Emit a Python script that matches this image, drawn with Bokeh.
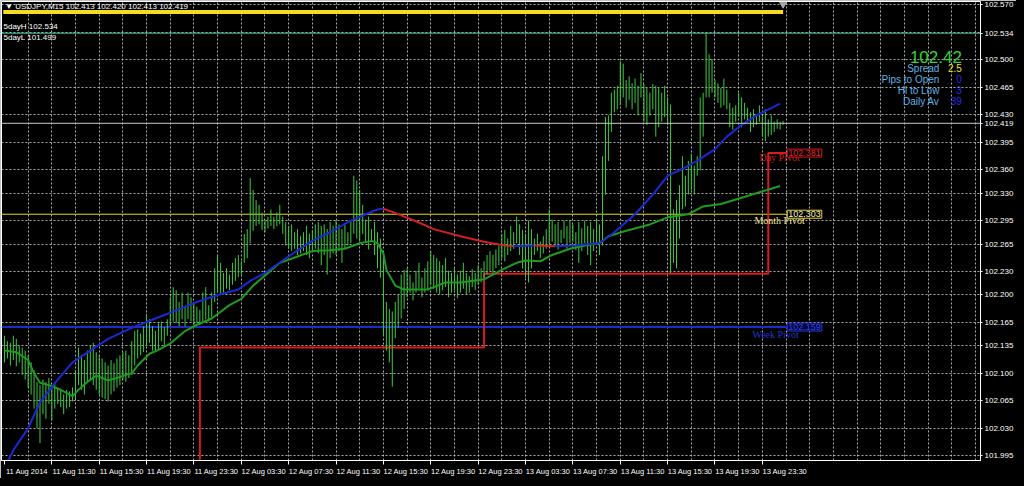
import numpy as np
from bokeh.plotting import figure
from bokeh.models import Range1d, FixedTicker, NumeralTickFormatter, Label, Span
from bokeh.embed import file_html
from bokeh.resources import INLINE
try:
    from bokeh.models import HTMLLabel
except ImportError:
    HTMLLabel = None

# ---------------- data ----------------
chart_title = "\u25bc USDJPY,M15  102.413 102.420 102.413 102.419"
bar_start_hour = 7.5      # first bar: 11 Aug 2014 07:30 (hours since 11 Aug 00:00)
bar_step_hour = 0.25      # M15 bars

highs = [
    102.148, 102.141, 102.139, 102.148, 102.144, 102.135, 102.133, 102.129, 102.123, 102.114, 102.104, 102.089, 102.085, 102.092, 102.089, 102.094,
    102.085, 102.088, 102.082, 102.079, 102.073, 102.079, 102.077, 102.082, 102.104, 102.133, 102.123, 102.117, 102.129, 102.135, 102.139, 102.127,
    102.123, 102.119, 102.114, 102.110, 102.117, 102.113, 102.119, 102.123, 102.127, 102.129, 102.123, 102.141, 102.154, 102.156, 102.151, 102.160,
    102.176, 102.169, 102.160, 102.154, 102.164, 102.166, 102.159, 102.169, 102.197, 102.210, 102.206, 102.191, 102.203, 102.185, 102.203, 102.197,
    102.191, 102.185, 102.181, 102.203, 102.210, 102.187, 102.203, 102.234, 102.251, 102.241, 102.228, 102.234, 102.226, 102.241, 102.247, 102.251,
    102.243, 102.278, 102.284, 102.349, 102.334, 102.321, 102.315, 102.305, 102.296, 102.300, 102.309, 102.300, 102.305, 102.315, 102.300, 102.293,
    102.288, 102.290, 102.280, 102.284, 102.275, 102.280, 102.288, 102.278, 102.283, 102.290, 102.293, 102.288, 102.290, 102.284, 102.293, 102.288,
    102.295, 102.290, 102.284, 102.290, 102.280, 102.295, 102.352, 102.346, 102.334, 102.315, 102.296, 102.300, 102.284, 102.293, 102.280, 102.272,
    102.256, 102.191, 102.182, 102.179, 102.191, 102.200, 102.226, 102.232, 102.234, 102.226, 102.216, 102.231, 102.241, 102.222, 102.234, 102.243,
    102.256, 102.251, 102.247, 102.243, 102.238, 102.247, 102.231, 102.228, 102.234, 102.226, 102.231, 102.241, 102.228, 102.224, 102.233, 102.228,
    102.238, 102.234, 102.243, 102.251, 102.256, 102.251, 102.258, 102.263, 102.278, 102.283, 102.272, 102.288, 102.280, 102.300, 102.290, 102.283,
    102.278, 102.295, 102.284, 102.272, 102.278, 102.268, 102.275, 102.284, 102.309, 102.296, 102.290, 102.293, 102.283, 102.295, 102.288, 102.296,
    102.290, 102.280, 102.293, 102.285, 102.295, 102.288, 102.293, 102.284, 102.296, 102.290, 102.377, 102.427, 102.429, 102.458, 102.462, 102.467,
    102.498, 102.495, 102.474, 102.479, 102.470, 102.476, 102.467, 102.483, 102.469, 102.464, 102.458, 102.469, 102.467, 102.464, 102.458, 102.467,
    102.452, 102.443, 102.309, 102.321, 102.340, 102.377, 102.352, 102.371, 102.380, 102.365, 102.377, 102.452, 102.458, 102.535, 102.507, 102.501,
    102.474, 102.470, 102.464, 102.476, 102.462, 102.445, 102.439, 102.442, 102.458, 102.452, 102.445, 102.439, 102.433, 102.437, 102.429, 102.442,
    102.427, 102.437, 102.424, 102.429, 102.421, 102.424, 102.421, 102.422,
]
lows = [
    102.114, 102.119, 102.110, 102.117, 102.109, 102.114, 102.098, 102.092, 102.082, 102.073, 102.055, 102.030, 102.011, 102.048, 102.042, 102.061,
    102.040, 102.055, 102.061, 102.057, 102.048, 102.055, 102.057, 102.064, 102.067, 102.085, 102.079, 102.073, 102.089, 102.092, 102.085, 102.079,
    102.073, 102.069, 102.067, 102.064, 102.073, 102.077, 102.082, 102.085, 102.092, 102.089, 102.094, 102.098, 102.110, 102.119, 102.123, 102.127,
    102.135, 102.139, 102.129, 102.127, 102.131, 102.141, 102.135, 102.148, 102.160, 102.166, 102.164, 102.160, 102.169, 102.160, 102.169, 102.166,
    102.162, 102.164, 102.162, 102.166, 102.169, 102.166, 102.172, 102.191, 102.203, 102.201, 102.203, 102.208, 102.206, 102.213, 102.218, 102.223,
    102.226, 102.241, 102.247, 102.266, 102.282, 102.288, 102.290, 102.283, 102.280, 102.285, 102.288, 102.284, 102.288, 102.290, 102.278, 102.263,
    102.259, 102.256, 102.259, 102.251, 102.253, 102.256, 102.251, 102.247, 102.256, 102.259, 102.253, 102.238, 102.251, 102.226, 102.247, 102.253,
    102.251, 102.256, 102.241, 102.259, 102.263, 102.266, 102.278, 102.272, 102.268, 102.278, 102.266, 102.258, 102.268, 102.251, 102.234, 102.222,
    102.148, 102.129, 102.114, 102.083, 102.145, 102.158, 102.170, 102.182, 102.197, 102.203, 102.193, 102.203, 102.208, 102.197, 102.203, 102.206,
    102.213, 102.208, 102.203, 102.201, 102.206, 102.210, 102.197, 102.203, 102.206, 102.196, 102.203, 102.208, 102.201, 102.203, 102.210, 102.206,
    102.213, 102.216, 102.222, 102.226, 102.231, 102.228, 102.234, 102.238, 102.247, 102.243, 102.251, 102.256, 102.259, 102.266, 102.251, 102.234,
    102.222, 102.216, 102.234, 102.251, 102.256, 102.247, 102.253, 102.259, 102.266, 102.268, 102.263, 102.258, 102.266, 102.272, 102.259, 102.266,
    102.268, 102.257, 102.241, 102.256, 102.266, 102.251, 102.238, 102.256, 102.266, 102.251, 102.263, 102.328, 102.371, 102.408, 102.433, 102.437,
    102.442, 102.452, 102.439, 102.449, 102.437, 102.445, 102.429, 102.452, 102.421, 102.417, 102.429, 102.437, 102.402, 102.414, 102.421, 102.427,
    102.417, 102.228, 102.241, 102.234, 102.272, 102.309, 102.313, 102.328, 102.334, 102.328, 102.352, 102.359, 102.402, 102.452, 102.452, 102.458,
    102.452, 102.445, 102.439, 102.442, 102.437, 102.414, 102.411, 102.421, 102.427, 102.414, 102.424, 102.421, 102.408, 102.414, 102.417, 102.421,
    102.402, 102.396, 102.402, 102.404, 102.408, 102.412, 102.411, 102.417,
]

# fast moving average (bar index, value)
ma_fast_idx = [0, 4, 8, 10, 12, 15, 19, 23, 25, 28, 31, 33, 35, 38, 41, 43, 45, 49, 52, 56,
               61, 65, 70, 76, 80, 84, 89, 93, 99, 104, 110, 115, 120, 124, 126, 128, 129, 132, 135, 143,
               149, 154, 162, 168, 173, 176, 181, 185, 191, 196, 201, 204, 210, 218, 224, 231, 236, 242, 249, 255, 262]
ma_fast_val = [102.129, 102.127, 102.117, 102.100, 102.088, 102.085, 102.079, 102.071, 102.079, 102.089,
               102.097, 102.094, 102.091, 102.094, 102.098, 102.100, 102.110, 102.125, 102.130, 102.138,
               102.154, 102.162, 102.170, 102.187, 102.195, 102.212, 102.228, 102.241, 102.249, 102.256,
               102.257, 102.259, 102.266, 102.269, 102.266, 102.253, 102.232, 102.212, 102.207, 102.207,
               102.216, 102.216, 102.220, 102.232, 102.241, 102.244, 102.243, 102.251, 102.259, 102.263,
               102.266, 102.275, 102.282, 102.290, 102.299, 102.303, 102.313, 102.316, 102.324, 102.331, 102.339]

# slow moving average (bar index, value) - blue when rising, red when falling
ma_slow_idx = [0, 3, 8, 12, 18, 23, 29, 35, 43, 51, 59, 65, 72, 79, 83, 88, 94, 99, 104, 110,
               116, 122, 126, 128, 131, 135, 139, 145, 154, 162, 169, 172, 179, 186, 193, 195, 201, 206, 213, 219,
               224, 229, 234, 240, 244, 249, 254, 262]
ma_slow_val = [101.978, 102.002, 102.030, 102.063, 102.092, 102.114, 102.129, 102.144, 102.158, 102.170,
               102.182, 102.191, 102.200, 102.207, 102.218, 102.228, 102.244, 102.257, 102.269, 102.280,
               102.293, 102.303, 102.309, 102.310, 102.306, 102.300, 102.294, 102.284, 102.275, 102.268,
               102.263, 102.262, 102.263, 102.262, 102.263, 102.264, 102.266, 102.280, 102.303, 102.328,
               102.352, 102.361, 102.371, 102.386, 102.402, 102.417, 102.429, 102.444]

# pivots
day_start_hours = [0, 24, 48, 72]                  # 11, 12, 13, 14 Aug
day_pivots = [101.900, 102.133, 102.227, 102.381]
month_pivot = 102.303
week_pivot = 102.159
five_day_high = 102.534
five_day_low = 101.499
bid_price = 102.419
pivot_end_hour = 73.6
progress_level = 102.561

# info panel
last_price_text = "102.42"
info_names = ["Spread", "Pips to Open", "Hi to Low", "Daily Av"]
info_values = ["2.5", "0", "3", "39"]

# axes
y_ticks = [102.570, 102.500, 102.465, 102.430, 102.395, 102.360, 102.330, 102.295, 102.265,
           102.230, 102.200, 102.165, 102.135, 102.100, 102.065, 102.030, 101.995]
y_grid = y_ticks + [102.535]
x_label_hours = [7.5, 11.5, 15.5, 19.5, 23.5, 27.5, 31.5, 35.5, 39.5, 43.5, 47.5, 51.5, 55.5, 59.5, 63.5, 67.5, 71.5]
x_labels = ["11 Aug 2014", "11 Aug 11:30", "11 Aug 15:30", "11 Aug 19:30", "11 Aug 23:30",
            "12 Aug 03:30", "12 Aug 07:30", "12 Aug 11:30", "12 Aug 15:30", "12 Aug 19:30", "12 Aug 23:30",
            "13 Aug 03:30", "13 Aug 07:30", "13 Aug 11:30", "13 Aug 15:30", "13 Aug 19:30", "13 Aug 23:30"]
x_grid_hours = [9.5 + 2 * k for k in range(41)]

# ---------------- figure ----------------
X0, X1 = 7.25, 89.92
Y0, Y1 = 101.9888, 102.5744
p = figure(width=1016, height=478, output_backend="svg", toolbar_location=None,
           x_range=Range1d(X0, X1), y_range=Range1d(Y0, Y1), y_axis_location="right",
           background_fill_color="black", border_fill_color="black",
           min_border_left=1, min_border_top=1, min_border_right=30, min_border_bottom=12)
p.styles = {"box-shadow": "0 0 0 8px #000000"}
p.outline_line_color = "white"
p.outline_line_width = 1

AX_FONT = "Liberation Sans"
# y axis (the two highlighted prices are ticks too)
p.yaxis.ticker = FixedTicker(ticks=y_ticks + [five_day_high, bid_price])
p.yaxis.formatter = NumeralTickFormatter(format="0.000")
p.yaxis.major_label_text_color = "white"
p.yaxis.major_label_text_font = AX_FONT
p.yaxis.major_label_text_font_size = "8px"
p.yaxis.axis_line_color = "white"
p.yaxis.major_tick_line_color = "white"
p.yaxis.major_tick_out = 2
p.yaxis.major_tick_in = 0
p.yaxis.minor_tick_line_color = None
p.yaxis.major_label_standoff = 2

# x axis: labels start at their tick (MetaTrader style)
label_shift = 1.9
p.xaxis.ticker = FixedTicker(ticks=[h + label_shift for h in x_label_hours], minor_ticks=x_label_hours)
p.xaxis.major_label_overrides = {h + label_shift: s for h, s in zip(x_label_hours, x_labels)}
p.xaxis.major_label_text_color = "white"
p.xaxis.major_label_text_font = AX_FONT
p.xaxis.major_label_text_font_size = "7.5px"
p.xaxis.axis_line_color = "white"
p.xaxis.major_tick_line_color = None
p.xaxis.major_tick_out = 0
p.xaxis.major_tick_in = 0
p.xaxis.minor_tick_line_color = "white"
p.xaxis.minor_tick_out = 4
p.xaxis.minor_tick_in = 0
p.xaxis.major_label_standoff = 2

p.xgrid.ticker = FixedTicker(ticks=x_grid_hours)
p.ygrid.ticker = FixedTicker(ticks=y_grid)
for g in (p.xgrid[0], p.ygrid[0]):
    g.grid_line_color = "#c8c8c8"
    g.grid_line_dash = "2 2"
    g.grid_line_width = 1
    g.grid_line_alpha = 0.85

# ---------------- horizontal levels ----------------
p.add_layout(Span(location=five_day_high, dimension="width", line_color="#49c9a2", line_width=1))
p.add_layout(Span(location=bid_price, dimension="width", line_color="#c8c8c8", line_width=1))
p.segment(x0=[X0], x1=[pivot_end_hour], y0=[month_pivot], y1=[month_pivot], line_color="#e8d838", line_width=1)
p.segment(x0=[X0], x1=[pivot_end_hour], y0=[week_pivot], y1=[week_pivot], line_color="#1c2ccc", line_width=2)

# day pivot step line
step_x = day_start_hours + [pivot_end_hour]
step_y = day_pivots + [day_pivots[-1]]
p.step(x=step_x, y=step_y, mode="after", line_color="#d81c1c", line_width=2)

# ---------------- price bars ----------------
bar_t = bar_start_hour + bar_step_hour * np.arange(len(highs))
p.segment(x0=bar_t, x1=bar_t, y0=lows, y1=highs, line_color="#3dcc3d", line_width=1)

# ---------------- moving averages ----------------
fx = bar_start_hour + bar_step_hour * np.array(ma_fast_idx)
p.line(fx, ma_fast_val, line_color="#1f9c1f", line_width=2)

sx = bar_start_hour + bar_step_hour * np.array(ma_slow_idx)
UP, DOWN = "#1a2ad0", "#d02020"
runs, cur, cur_col = [], [0], None
for i in range(len(sx) - 1):
    col = UP if ma_slow_val[i + 1] >= ma_slow_val[i] else DOWN
    if cur_col is None:
        cur_col = col
    if col != cur_col:
        runs.append((cur, cur_col))
        cur, cur_col = [i], col
    cur.append(i + 1)
runs.append((cur, cur_col))
p.multi_line(xs=[[sx[j] for j in r] for r, _ in runs],
             ys=[[ma_slow_val[j] for j in r] for r, _ in runs],
             line_color=[c for _, c in runs], line_width=2)

# top progress bar and shift marker
p.segment(x0=[bar_t[0] - 0.1], x1=[bar_t[-1]], y0=[progress_level], y1=[progress_level],
          line_color="#f6dc1e", line_width=4)
p.scatter(x=[bar_t[-1]], y=[102.571], marker="inverted_triangle", size=7,
          fill_color="#a8a8a8", line_color="#a8a8a8")

# ---------------- texts ----------------
p.add_layout(Label(x=7.55, y=102.5735, text=chart_title, text_color="white", text_font=AX_FONT,
                   text_font_size="8px", text_baseline="top", text_align="left"))
p.add_layout(Label(x=7.42, y=102.542, text="5dayH 102.534", text_color="white", text_font=AX_FONT,
                   text_font_size="8px", text_baseline="middle"))
p.add_layout(Label(x=7.42, y=102.529, text="5dayL 101.499", text_color="white", text_font=AX_FONT,
                   text_font_size="8px", text_baseline="middle"))

# info panel
p.add_layout(Label(x=88.35, y=102.504, text=last_price_text, text_color="#38d038", text_font=AX_FONT,
                   text_font_size="17px", text_align="right", text_baseline="middle"))
info_y = [102.489, 102.475, 102.461, 102.447]
info_cols = ["#f0e030", "#2828e8", "#2828e8", "#2828e8"]
for name, val, yy, vc in zip(info_names, info_values, info_y, info_cols):
    p.add_layout(Label(x=86.45, y=yy, text=name, text_color="#5fb2e2", text_font=AX_FONT,
                       text_font_size="10px", text_align="right", text_baseline="middle"))
    p.add_layout(Label(x=88.35, y=yy, text=val, text_color=vc, text_font=AX_FONT,
                       text_font_size="10px", text_align="right", text_baseline="middle"))

# pivot names
SERIF = "Liberation Serif"
p.add_layout(Label(x=71.25, y=102.375, text="Day Pivot", text_color="#d41c1c", text_font=SERIF,
                   text_font_size="10px", text_baseline="middle"))
p.add_layout(Label(x=70.83, y=102.295, text="Month Pivot", text_color="#efe3a0", text_font=SERIF,
                   text_font_size="10px", text_baseline="middle"))
p.add_layout(Label(x=70.67, y=102.149, text="Week Pivot", text_color="#2436cc", text_font=SERIF,
                   text_font_size="10px", text_baseline="middle"))

# pivot price boxes
for lvl, tc, bc, fc in [(day_pivots[-1], "#e02828", "#d41c1c", "#000000"),
                        (month_pivot, "#f6f0d0", "#e8d838", "#000000"),
                        (week_pivot, "#3048e0", "#2436cc", "#05053c")]:
    p.add_layout(Label(x=pivot_end_hour, y=lvl, text=f"{lvl:.3f}", text_color=tc, text_font=AX_FONT,
                       text_font_size="9px", text_baseline="middle", text_align="left",
                       background_fill_color=fc, border_line_color=bc, border_line_width=1, padding=1))

# highlighted axis prices (boxes over the axis labels, drawn as HTML so they are not clipped)
if HTMLLabel is not None:
    for lvl, fc in [(five_day_high, "#5cd6aa"), (bid_price, "#ffffff")]:
        p.add_layout(HTMLLabel(x=X1, y=lvl, x_offset=3, text=f"{lvl:.3f}", text_color="#000000",
                               text_font=AX_FONT, text_font_size="8px", text_baseline="middle",
                               text_align="left", background_fill_color=fc))

open("out.html", "w").write(file_html(p, INLINE))
